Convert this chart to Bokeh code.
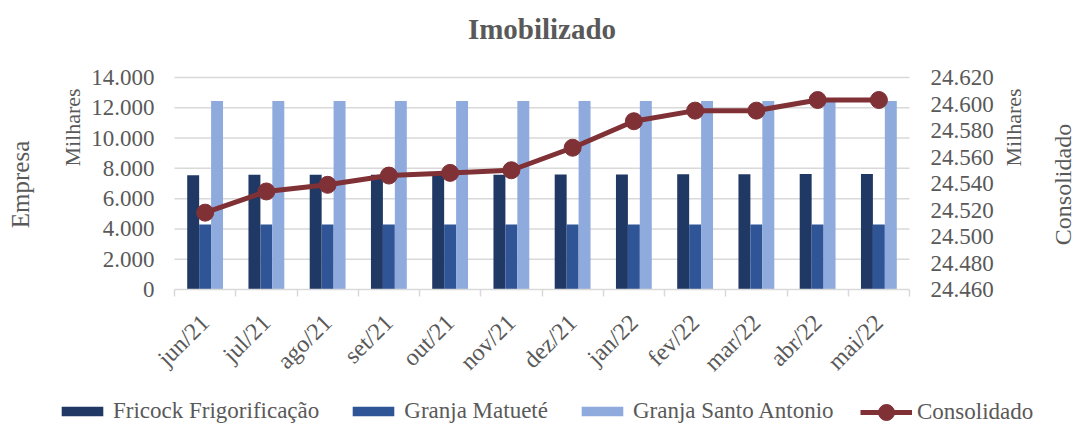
import numpy as np
from bokeh.plotting import figure
from bokeh.models import (Range1d, LinearAxis, FixedTicker, ColumnDataSource, Legend,
                          LegendItem, Label)
from bokeh.transform import dodge
from bokeh.embed import file_html
from bokeh.resources import INLINE

# ---- data ----
months = ["jun/21", "jul/21", "ago/21", "set/21", "out/21", "nov/21",
          "dez/21", "jan/22", "fev/22", "mar/22", "abr/22", "mai/22"]
fricock = [7550, 7570, 7570, 7580, 7580, 7580, 7590, 7600, 7610, 7610, 7620, 7620]
matuete = [4300, 4300, 4300, 4300, 4300, 4300, 4300, 4300, 4300, 4300, 4300, 4300]
santo_antonio = [12450, 12450, 12450, 12450, 12450, 12450, 12450, 12450, 12450, 12450, 12450, 12450]
consolidado = [24518, 24534, 24539, 24546, 24548, 24550, 24567, 24587, 24595, 24595, 24603, 24603]
left_ticks = [0, 2000, 4000, 6000, 8000, 10000, 12000, 14000]
right_ticks = [24460, 24480, 24500, 24520, 24540, 24560, 24580, 24600, 24620]

# ---- layout (pixels) ----
W, H = 1076, 423
PL, PR, PT, PB = 174, 909, 77, 289      # plotting area inside the canvas

FONT = "Liberation Serif"
TXT = "#595959"
GRID = "#d9d9d9"
C1, C2, C3 = "#203864", "#2F5597", "#8FAADC"
CL = "#7F3136"


def br(v):
    return f"{v:,}".replace(",", ".")


def lin_range(lo, hi, p_lo, p_hi, c_lo, c_hi):
    """range whose values lo/hi land on pixels p_lo/p_hi of a canvas spanning c_lo..c_hi"""
    k = (hi - lo) / (p_hi - p_lo)
    return Range1d(lo - (p_lo - c_lo) * k, hi + (c_hi - p_hi) * k)


n = len(months)
idx = list(range(n))
src = ColumnDataSource(dict(x=idx, fricock=fricock, matuete=matuete,
                            santo=santo_antonio, cons=consolidado))

x_rng = lin_range(-0.5, n - 0.5, PL, PR, 0, W)
y_rng = lin_range(0, left_ticks[-1], H - PB, H - PT, 0, H)
yr_rng = lin_range(right_ticks[0], right_ticks[-1], H - PB, H - PT, 0, H)

p = figure(width=W, height=H, output_backend="svg", toolbar_location=None, title=None,
           x_range=x_rng, y_range=y_rng, min_border=0,
           min_border_left=0, min_border_right=0, min_border_top=0, min_border_bottom=0)
p.extra_y_ranges = {"right": yr_rng}
p.outline_line_color = None
p.background_fill_color = None
p.border_fill_color = None
p.grid.visible = False

# horizontal gridlines over the category span
p.segment(x0=-0.5, x1=n - 0.5, y0=left_ticks[1:], y1=left_ticks[1:],
          line_color=GRID, line_width=1.5)

bw = 0.195
r1 = p.vbar(x=dodge("x", -bw, range=p.x_range), top="fricock", width=bw, source=src,
            fill_color=C1, line_color=None)
r2 = p.vbar(x=dodge("x", 0, range=p.x_range), top="matuete", width=bw, source=src,
            fill_color=C2, line_color=None)
r3 = p.vbar(x=dodge("x", bw, range=p.x_range), top="santo", width=bw, source=src,
            fill_color=C3, line_color=None)
r4 = p.line("x", "cons", source=src, y_range_name="right", line_color=CL, line_width=5)
r5 = p.scatter("x", "cons", source=src, y_range_name="right", size=17,
               fill_color=CL, line_color=CL)

# x axis at y = 0
xa = p.xaxis[0]
xa.fixed_location = 0
xa.bounds = (-0.5, n - 0.5)
xa.ticker = FixedTicker(ticks=idx, minor_ticks=[i - 0.5 for i in range(n + 1)])
xa.major_label_overrides = {i: m for i, m in enumerate(months)}
xa.major_label_orientation = np.pi / 4
xa.major_label_text_font = FONT
xa.major_label_text_font_size = "24px"
xa.major_label_text_color = TXT
xa.major_label_standoff = 22
xa.major_tick_line_color = None
xa.major_tick_out = 0
xa.major_tick_in = 0
xa.minor_tick_line_color = GRID
xa.minor_tick_line_width = 1.5
xa.minor_tick_out = 7
xa.minor_tick_in = 0
xa.axis_line_color = GRID
xa.axis_line_width = 1.5


def style_y(ax, ticks, standoff):
    ax.ticker = FixedTicker(ticks=ticks)
    ax.major_label_overrides = {t: br(t) for t in ticks}
    ax.major_label_text_font = FONT
    ax.major_label_text_font_size = "23px"
    ax.major_label_text_color = TXT
    ax.major_label_standoff = standoff
    ax.major_tick_line_color = None
    ax.major_tick_out = 0
    ax.major_tick_in = 0
    ax.minor_tick_line_color = None
    ax.minor_tick_out = 0
    ax.minor_tick_in = 0
    ax.axis_line_color = None


ya = p.yaxis[0]
ya.fixed_location = -0.5
style_y(ya, left_ticks, 20)

yr = LinearAxis(y_range_name="right", fixed_location=n - 0.5)
style_y(yr, right_ticks, 21)
p.add_layout(yr, "right")


# ---- texts ----
def text(t, px, py, size, angle=0.0, bold=False):
    p.add_layout(Label(x=px, y=H - py, x_units="screen", y_units="screen", text=t,
                       angle=angle, text_align="center", text_baseline="middle",
                       text_font=FONT, text_font_size=size, text_color=TXT,
                       text_font_style="bold" if bold else "normal"))


text("Imobilizado", (PL + PR) / 2, 28, "29px", bold=True)
text("Milhares", 72, 127, "22px", angle=np.pi / 2)
text("Empresa", 20, 184, "25px", angle=np.pi / 2)
text("Milhares", 1013, 127, "22px", angle=np.pi / 2)
text("Consolidado", 1062, 184, "24px", angle=np.pi / 2)


# ---- legends ----
def make_legend(items, x, y, gh, spacing):
    lg = Legend(items=items, orientation="horizontal", location=(x, y))
    lg.label_text_font = FONT
    lg.label_text_font_size = "23px"
    lg.label_text_color = TXT
    lg.glyph_width = 52
    lg.glyph_height = gh
    lg.label_standoff = 5
    lg.label_height = 20
    lg.spacing = spacing
    lg.padding = 0
    lg.margin = 0
    lg.border_line_color = None
    lg.background_fill_alpha = 0
    p.add_layout(lg, "center")


make_legend([LegendItem(label="Fricock Frigorificação", renderers=[r1]),
             LegendItem(label="Granja Matueté", renderers=[r2]),
             LegendItem(label="Granja Santo Antonio", renderers=[r3])],
            56, -1, 12, 28)
make_legend([LegendItem(label="Consolidado", renderers=[r4, r5])],
            860, -9, 40, 0)

open("out.html", "w").write(file_html(p, INLINE))
